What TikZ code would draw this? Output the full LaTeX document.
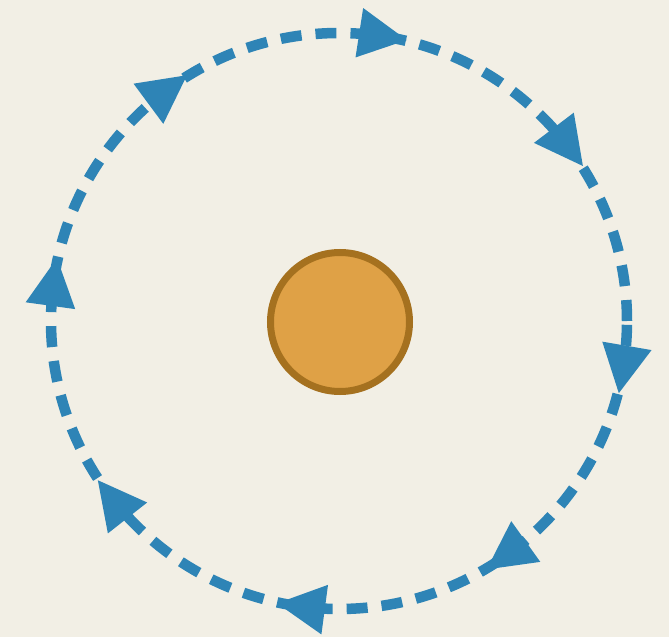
\documentclass[tikz,border=0pt]{standalone}
\usetikzlibrary{calc}
\definecolor{bgcol}{HTML}{F2EFE5}
\definecolor{orbitblue}{HTML}{2E84B6}
\definecolor{sunfill}{HTML}{DFA146}
\definecolor{sunedge}{HTML}{A5711F}
\tikzset{
  orbitline/.style={draw=orbitblue, line width=10.5pt, dash pattern=on 21pt off 14pt, circle, minimum size=576pt, inner sep=0pt, outer sep=0pt},
  headtip/.style={fill=orbitblue},
  sunball/.style={circle, fill=sunfill, draw=sunedge, line width=7pt, minimum size=139pt, inner sep=0pt}
}
\begin{document}
\begin{tikzpicture}[x=1pt,y=1pt]
  \fill[bgcol] (-339,-316) rectangle (330,321);
  \useasboundingbox (-339,-316) rectangle (330,321);
  \node[orbitline] (orbit) at (0,0) {};
  \node[sunball] (sun) at (1,-1) {};
  \foreach \a in {76.4,32.4,-14.5,-59.3,-102.4,-146.6,167.4,121.7} {
    \begin{scope}[shift={(orbit.center)}, rotate=\a+4.8]
      \fill[headtip] (288,-24) -- (313,24) -- (263,24) -- cycle;
    \end{scope}
  }
\end{tikzpicture}
\end{document}
